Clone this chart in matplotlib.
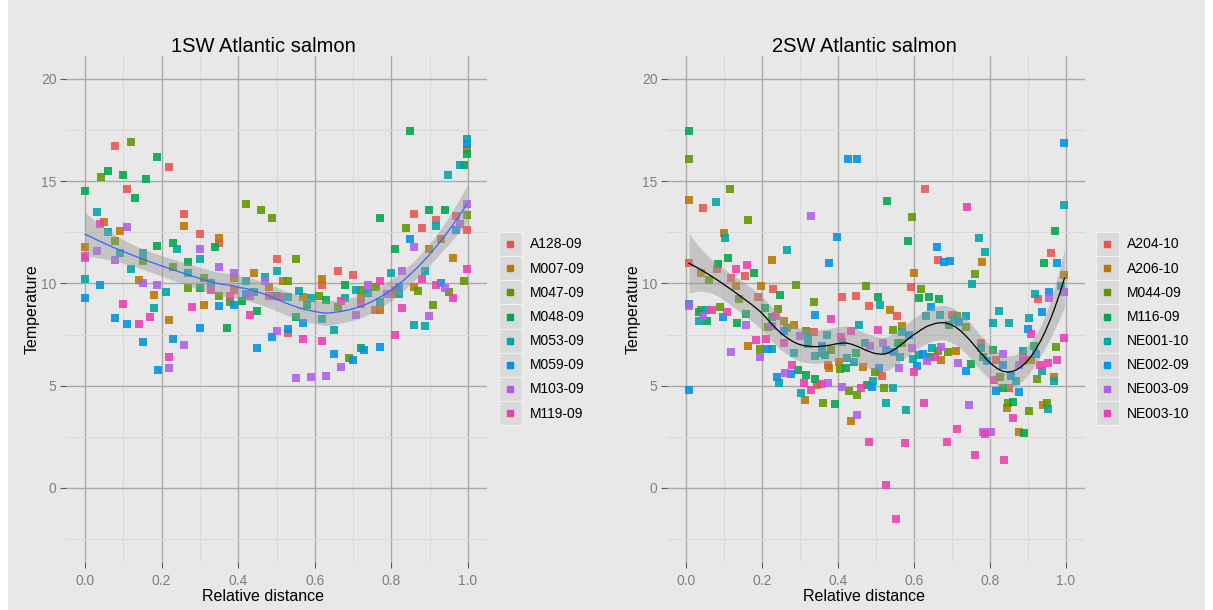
import numpy as np
import matplotlib
matplotlib.use("Agg")
import matplotlib.pyplot as plt
from matplotlib.patches import Rectangle
from matplotlib.lines import Line2D
from matplotlib.legend_handler import HandlerBase

plt.rcParams['font.family'] = ['Liberation Sans', 'DejaVu Sans']

# ---------------- data: 1SW Atlantic salmon ----------------
A128_09 = [(0.079,16.7),(0.219,15.7),(0.109,14.6),(0.259,13.4),(0.299,12.4),(0.349,12.0),(0.5,11.2),(0.389,9.7),
           (0.66,10.6),(0.70,10.4),(0.619,9.9),(0.859,13.4),(0.88,12.7),(0.918,13.1),(0.97,13.3),(0.998,12.6),
           (0.81,9.7),(0.757,8.7),(0.53,7.6)]
M007_09 = [(0,11.8),(0.05,13.0),(0.09,12.57),(0.14,10.15),(0.18,9.45),(0.259,12.8),(0.349,12.2),(0.31,8.96),
           (0.44,10.5),(0.39,10.25),(0.48,9.83),(0.219,8.2),(0.93,12.15),(0.899,11.7),(0.96,11.25),(0.998,16.6),
           (0.859,9.85),(0.809,9.47),(0.77,8.7),(0.72,9.3),(0.619,10.2),(0.569,9.35),(0.518,10.1)]
M047_09 = [(0.12,16.9),(0.041,15.2),(0.079,12.1),(0.15,11.1),(0.23,10.8),(0.269,9.77),(0.31,10.27),(0.349,9.4),
           (0.379,9.08),(0.42,13.9),(0.459,13.6),(0.489,13.2),(0.998,13.37),(0.838,12.7),(0.99,10.1),(0.95,9.6),
           (0.909,8.95),(0.869,9.63),(0.759,9.83),(0.72,9.7),(0.66,8.83),(0.61,9.4),(0.529,10.1),(0.55,11.2),(0.69,6.37)]
M048_09 = [(0,14.5),(0.06,15.5),(0.10,15.3),(0.189,16.2),(0.16,15.1),(0.13,14.2),(0.189,11.85),(0.23,12.0),
           (0.269,11.07),(0.34,11.8),(0.30,9.77),(0.409,9.15),(0.449,8.66),(0.5,9.4),(0.37,7.8),(0.849,17.47),
           (0.998,16.35),(0.99,15.8),(0.939,13.6),(0.899,13.6),(0.77,13.2),(0.809,11.67),(0.679,9.9),(0.63,9.2),
           (0.58,8.95),(0.55,8.35),(0.72,6.83)]
M053_09 = [(0.03,13.5),(0.061,12.5),(0.09,11.5),(0.15,11.5),(0.12,10.7),(0,10.2),(0.239,11.7),(0.3,11.2),
           (0.269,10.5),(0.21,9.6),(0.18,8.8),(0.33,10.0),(0.42,10.1),(0.47,10.3),(0.5,10.6),(0.44,9.6),
           (0.998,17.07),(0.98,15.8),(0.949,15.3),(0.918,12.8),(0.80,10.5),(0.888,10.6),(0.819,9.5),(0.77,9.08),
           (0.74,9.55),(0.709,9.7),(0.679,9.27),(0.59,9.27),(0.619,8.26),(0.56,9.65),(0.529,9.32),(0.649,7.7),
           (0.859,7.97),(0.888,7.94)]
M059_09 = [(0,9.27),(0.04,9.94),(0.079,8.3),(0.349,8.9),(0.39,8.96),(0.42,9.47),(0.11,8.0),(0.15,7.15),(0.23,7.3),
           (0.19,5.75),(0.30,7.8),(0.449,6.85),(0.489,7.4),(0.998,16.8),(0.97,12.6),(0.849,12.15),(0.93,10.0),
           (0.819,9.85),(0.53,7.77),(0.569,8.08),(0.649,6.57),(0.70,6.24),(0.728,6.73),(0.77,6.9)]
M103_09 = [(0.03,11.6),(0.109,12.75),(0.079,11.15),(0,11.26),(0.15,10.0),(0.189,9.9),(0.30,11.7),(0.349,10.8),
           (0.39,10.5),(0.47,10.1),(0.43,9.37),(0.259,7.0),(0.219,5.85),(0.50,7.65),(0.998,13.9),(0.98,12.9),
           (0.859,11.78),(0.828,10.6),(0.939,9.8),(0.899,8.4),(0.789,9.5),(0.74,9.9),(0.709,8.44),(0.669,5.92),
           (0.55,5.38),(0.59,5.41),(0.629,5.46)]
M119_09 = [(0.04,12.9),(0,11.35),(0.099,9.0),(0.17,8.36),(0.279,8.85),(0.33,9.7),(0.379,9.4),(0.43,8.44),(0.48,9.4),
           (0.14,8.0),(0.219,6.4),(0.998,10.7),(0.88,10.2),(0.918,9.9),(0.96,9.3),(0.828,8.8),(0.77,10.1),(0.72,8.98),
           (0.669,9.14),(0.51,9.32),(0.569,7.27),(0.619,7.2),(0.809,7.5)]

# ---------------- data: 2SW Atlantic salmon ----------------
A204_10 = [(0.046,13.7),(0.008,11.0),(0.082,10.7),(0.154,10.37),(0.118,10.25),(0.228,9.72),(0.19,9.34),(0.41,9.32),
           (0.448,9.4),(0.337,7.63),(0.373,6.0),(0.629,14.64),(0.664,11.17),(0.961,11.5),(0.592,9.84),(0.482,8.9),
           (0.555,8.41),(0.925,9.26),(0.7,8.46),(0.776,7.1),(0.815,6.26),(0.517,5.49),(0.851,4.88)]
A206_10 = [(0.008,14.1),(0.099,12.45),(0.225,11.15),(0.039,10.5),(0.132,9.88),(0.197,9.86),(0.257,8.18),(0.284,7.97),
           (0.164,6.96),(0.402,6.18),(0.376,5.87),(0.346,5.02),(0.312,4.29),(0.433,3.26),(0.78,11.03),(0.601,10.5),
           (0.996,10.43),(0.536,8.72),(0.568,7.94),(0.71,6.68),(0.671,6.24),(0.465,5.9),(0.908,6.26),(0.845,3.9),
           (0.94,4.04),(0.968,5.44),(0.876,2.74)]
M044_09 = [(0.008,16.1),(0.115,14.6),(0.164,13.1),(0.061,10.17),(0.289,9.93),(0.139,9.23),(0.338,9.1),(0.09,8.87),
           (0.243,8.75),(0.039,8.7),(0.266,7.82),(0.215,7.86),(0.195,6.81),(0.315,7.65),(0.381,6.75),(0.405,5.83),
           (0.36,4.17),(0.428,4.76),(0.45,4.56),(0.594,13.27),(0.761,10.45),(0.474,9.86),(0.618,9.72),(0.712,8.41),
           (0.737,7.87),(0.546,7.72),(0.569,7.1),(0.664,6.7),(0.689,6.65),(0.497,5.69),(0.521,4.88),(0.886,6.23),
           (0.973,6.88),(0.826,5.44),(0.847,4.14),(0.903,3.78),(0.949,4.16),(0.923,5.33)]
M116_09 = [(0.008,17.44),(0.111,11.25),(0.085,10.94),(0.179,10.5),(0.247,9.42),(0.207,8.82),(0.157,8.5),(0.034,8.62),
           (0.055,8.18),(0.135,8.05),(0.225,8.35),(0.367,6.5),(0.447,6.62),(0.42,5.88),(0.296,5.75),(0.315,5.52),
           (0.339,5.31),(0.393,4.09),(0.529,14.03),(0.97,12.58),(0.585,12.08),(0.942,10.99),(0.504,9.34),(0.612,9.27),
           (0.639,9.34),(0.665,9.24),(0.693,7.97),(0.558,7.1),(0.642,6.42),(0.751,6.05),(0.781,6.39),(0.807,6.75),
           (0.916,6.96),(0.476,5.04),(0.835,4.9),(0.86,4.19),(0.889,2.69)]
NE001_10 = [(0.08,14.0),(0.102,12.2),(0.266,11.64),(0.008,9.0),(0.052,8.7),(0.034,8.17),(0.227,6.8),(0.321,7.35),
            (0.37,7.5),(0.41,7.14),(0.321,7.03),(0.284,6.62),(0.339,6.45),(0.358,6.62),(0.424,6.37),(0.442,6.18),
            (0.246,5.13),(0.302,4.66),(0.77,12.22),(0.788,11.56),(0.996,13.84),(0.753,9.96),(0.51,8.95),(0.823,8.66),
            (0.919,9.5),(0.986,9.86),(0.903,8.3),(0.632,8.43),(0.668,8.46),(0.737,8.41),(0.706,8.22),(0.807,8.08),
            (0.851,8.05),(0.456,7.95),(0.568,7.61),(0.648,6.83),(0.47,7.1),(0.562,6.42),(0.614,6.5),(0.597,6.32),
            (0.775,6.83),(0.887,6.72),(0.937,5.74),(0.491,5.25),(0.545,4.88),(0.527,4.14),(0.579,3.83),(0.868,5.25),
            (0.953,3.88),(0.968,5.22)]
NE002_09 = [(0.425,16.07),(0.449,16.07),(0.398,12.26),(0.377,11.0),(0.34,8.47),(0.097,8.35),(0.257,7.65),(0.215,6.8),
            (0.358,6.96),(0.276,5.59),(0.239,5.41),(0.008,4.78),(0.996,16.87),(0.66,11.77),(0.679,11.05),(0.696,11.08),
            (0.977,10.99),(0.645,8.85),(0.956,9.6),(0.937,8.6),(0.718,8.1),(0.899,7.77),(0.588,7.5),(0.526,6.73),
            (0.548,6.67),(0.624,6.57),(0.607,5.98),(0.509,5.85),(0.489,4.95),(0.736,5.71),(0.793,6.21),(0.835,6.01),
            (0.92,6.57),(0.856,5.49),(0.816,4.74),(0.876,4.69)]
NE003_09 = [(0.33,13.3),(0.008,8.9),(0.044,8.41),(0.157,7.97),(0.225,7.9),(0.118,6.63),(0.195,6.42),(0.3,7.43),
            (0.261,5.64),(0.374,5.12),(0.411,4.95),(0.449,3.58),(0.954,9.29),(0.996,9.58),(0.595,6.85),(0.671,6.88),
            (0.484,6.94),(0.518,7.1),(0.634,6.2),(0.56,5.85),(0.715,6.13),(0.833,6.55),(0.876,6.0),(0.745,4.04),
            (0.781,2.75),(0.803,2.75)]
NE003_10 = [(0.131,10.7),(0.16,10.9),(0.109,8.6),(0.236,8.4),(0.068,8.7),(0.211,7.3),(0.185,7.24),(0.408,7.37),
            (0.433,7.68),(0.382,8.25),(0.257,7.07),(0.28,6.03),(0.31,5.13),(0.354,5.07),(0.33,4.81),(0.739,13.74),
            (0.908,7.52),(0.932,6.01),(0.953,6.11),(0.975,6.24),(0.996,7.35),(0.505,7.72),(0.656,6.42),(0.601,5.69),
            (0.461,4.88),(0.626,4.16),(0.887,6.42),(0.811,5.28),(0.861,3.44),(0.714,2.87),(0.787,2.64),(0.482,2.26),
            (0.576,2.22),(0.687,2.25),(0.761,1.6),(0.836,1.38),(0.527,0.15),(0.552,-1.5)]

left_names = ["A128-09", "M007-09", "M047-09", "M048-09", "M053-09", "M059-09", "M103-09", "M119-09"]
left_data = [A128_09, M007_09, M047_09, M048_09, M053_09, M059_09, M103_09, M119_09]
right_names = ["A204-10", "A206-10", "M044-09", "M116-09", "NE001-10", "NE002-09", "NE003-09", "NE003-10"]
right_data = [A204_10, A206_10, M044_09, M116_09, NE001_10, NE002_09, NE003_09, NE003_10]

palette = ["#E8554E", "#BA7800", "#5F9600", "#00A64C", "#00A6A6", "#0092E6", "#B15DEB", "#EC3FAE"]

x_ticks = [0.0, 0.2, 0.4, 0.6, 0.8, 1.0]
x_tick_labels = ["0.0", "0.2", "0.4", "0.6", "0.8", "1.0"]
y_ticks = [0, 5, 10, 15, 20]


def loess(x, y, span, xs):
    n = len(x)
    q = int(np.floor(n * span))

    def row(x0):
        d = np.abs(x - x0)
        h = np.sort(d)[q - 1]
        u = d / h
        w = np.where(u < 1, (1 - u ** 3) ** 3, 0.0)
        X = np.vstack([np.ones(n), x - x0, (x - x0) ** 2]).T
        XtW = X.T * w
        return np.linalg.solve(XtW @ X, XtW)[0]

    L = np.array([row(v) for v in x])
    res = y - L @ y
    IL = np.eye(n) - L
    d1 = np.trace(IL.T @ IL)
    sigma = np.sqrt(np.sum(res ** 2) / d1)
    Ls = np.array([row(v) for v in xs])
    return Ls @ y, sigma * np.sqrt(np.sum(Ls ** 2, axis=1))


class KeyHandler(HandlerBase):
    def create_artists(self, legend, orig_handle, xdescent, ydescent, width, height, fontsize, trans):
        bg = Rectangle((-xdescent, -ydescent), width, height,
                       facecolor="#DADADA", edgecolor="#F2F2F2", lw=0.8, transform=trans)
        m = Line2D([width / 2 - xdescent], [height / 2 - ydescent], marker="s", ms=4.2,
                   color=orig_handle.get_color(), ls="", transform=trans)
        return [bg, m]


W, H = 1213, 610
fig = plt.figure(figsize=(W / 100, H / 100), dpi=100, facecolor="white")
fig.patches.append(Rectangle((8 / W, 0), (1205 - 8) / W, 1, transform=fig.transFigure,
                             facecolor="#E8E8E8", edgecolor="none", zorder=-10))

# (panel left px, panel right px, title, names, data, smooth colour, span, legend x px, title centre px)
panels = [
    (66, 487, "1SW Atlantic salmon", left_names, left_data, "#3366FF", 0.75, 499, 263),
    (667, 1085, "2SW Atlantic salmon", right_names, right_data, "black", 0.4, 1096, 864),
]
top, bottom = 56, 562
for (x0, x1, title, names, data, lcol, span, legx, tcx) in panels:
    ax = fig.add_axes([x0 / W, 1 - bottom / H, (x1 - x0) / W, (bottom - top) / H])
    ax.set_facecolor("#E8E8E8")
    for s in ax.spines.values():
        s.set_visible(False)
    ax.set_xlim(-0.05, 1.05)
    ax.set_ylim(-3.625, 21.125)
    ax.set_xticks(x_ticks)
    ax.set_xticklabels(x_tick_labels)
    ax.set_yticks(y_ticks)
    ax.set_xticks([0.1, 0.3, 0.5, 0.7, 0.9], minor=True)
    ax.set_yticks([-2.5, 2.5, 7.5, 12.5, 17.5], minor=True)
    ax.grid(which="major", color="#A9A9A9", lw=1.0)
    ax.grid(which="minor", color="#D9D9D9", lw=0.8)
    ax.set_axisbelow(True)
    ax.tick_params(which="major", length=4.3, width=0.8, color="#5A5A5A", labelcolor="#7F7F7F",
                   labelsize=10, pad=2.5)
    ax.tick_params(axis="x", which="major", pad=4.5)
    ax.tick_params(which="minor", length=0)
    handles = []
    allx, ally = [], []
    for name, pts, col in zip(names, data, palette):
        arr = np.array(pts)
        ax.scatter(arr[:, 0], arr[:, 1], s=26, marker="s", color=col, alpha=0.88,
                   linewidths=0, zorder=2)
        allx.append(arr[:, 0]); ally.append(arr[:, 1])
        handles.append(Line2D([], [], color=col, marker="s", ls="", label=name))
    allx = np.concatenate(allx); ally = np.concatenate(ally)
    xs = np.linspace(allx.min(), allx.max(), 80)
    fit, se = loess(allx, ally, span, xs)
    ax.fill_between(xs, fit - 1.97 * se, fit + 1.97 * se, color="#999999", alpha=0.45, lw=0, zorder=3)
    ax.plot(xs, fit, color=lcol, lw=0.9, zorder=4)
    frac = (tcx - x0) / (x1 - x0)
    ax.set_title(title, fontsize=14.5, color="black", pad=3, x=frac)
    ax.set_xlabel("Relative distance", fontsize=11.5, labelpad=1)
    ax.xaxis.set_label_coords(frac, -0.069)
    ax.xaxis.label.set_va("center")
    ax.set_ylabel("Temperature", fontsize=11.5, labelpad=1)
    fig.legend(handles=handles, loc="upper left", bbox_to_anchor=(legx / W, 1 - 232 / H),
               frameon=False, fontsize=10, handler_map={Line2D: KeyHandler()},
               handlelength=1.65, handleheight=2.3, labelspacing=0.0, handletextpad=0.55,
               borderpad=0, borderaxespad=0)

fig.savefig("out.png", dpi=100, facecolor=fig.get_facecolor())
